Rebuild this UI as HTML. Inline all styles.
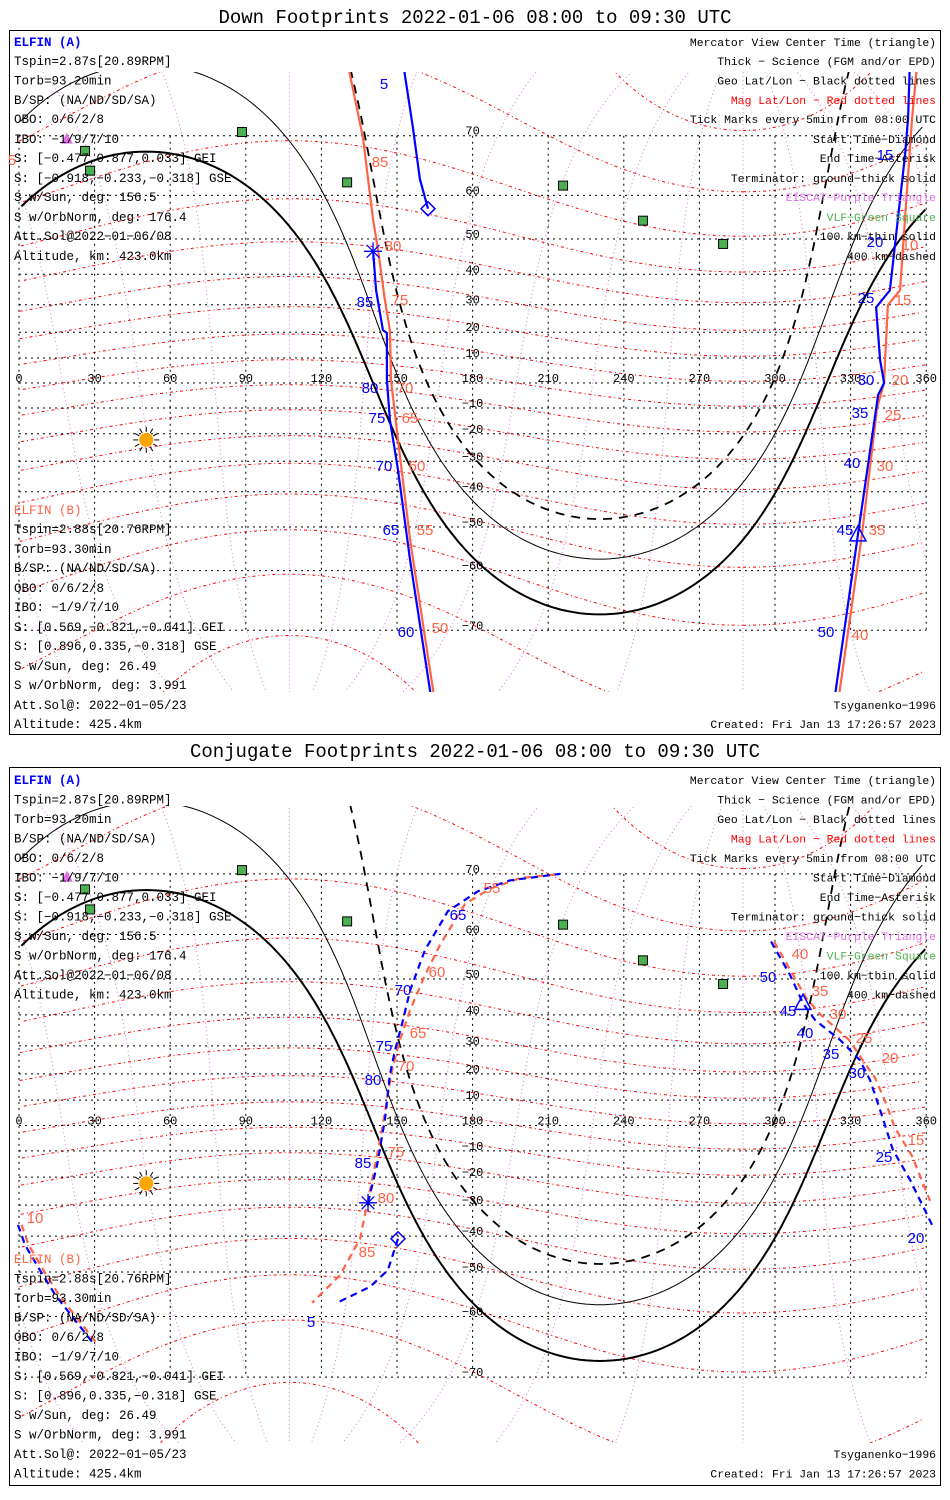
<!DOCTYPE html>
<html><head><meta charset="utf-8">
<style>
html,body{margin:0;padding:0;background:#fff;overflow:hidden;width:950px;height:1500px;}
svg{display:block;}
.t{font-family:"Liberation Mono",monospace;font-size:12.5px;fill:#000;}
.r{text-anchor:end;font-size:11.4px;}
.ttl{font-family:"Liberation Mono",monospace;font-size:19px;fill:#000;text-anchor:middle;}
.ax{font-family:"Liberation Mono",monospace;font-size:12px;fill:#000;text-anchor:middle;}
.lb{font-family:"Liberation Sans",sans-serif;font-size:15px;text-anchor:middle;}
.bl{fill:#0000ff;} .rd{fill:#ff6347;}
</style></head>
<body>
<svg id="chart" width="950" height="1500" viewBox="0 0 950 1500" xmlns="http://www.w3.org/2000/svg">
<defs>
<clipPath id="clip0"><rect x="10" y="72" width="931" height="620"/></clipPath>
<clipPath id="clip1"><rect x="10" y="806" width="931" height="637"/></clipPath>
</defs>
<rect x="0" y="0" width="950" height="1500" fill="#fff"/>
<text class="ttl" x="475" y="23">Down Footprints 2022-01-06 08:00 to 09:30 UTC</text>
<rect x="9.5" y="30.5" width="931" height="704" fill="none" stroke="#000"/>
<text class="ttl" x="475" y="757">Conjugate Footprints 2022-01-06 08:00 to 09:30 UTC</text>
<rect x="9.5" y="767.5" width="931" height="718" fill="none" stroke="#000"/>
<g id="maps"></g>
<g>
<text class="t" x="14" y="46" style="fill:#0000ff;font-weight:bold">ELFIN (A)</text>
<text class="t" x="14" y="65">Tspin=2.87s[20.89RPM]</text>
<text class="t" x="14" y="84.5">Torb=93.20min</text>
<text class="t" x="14" y="104">B/SP: (NA/ND/SD/SA)</text>
<text class="t" x="14" y="123">OBO: 0/6/2/8</text>
<text class="t" x="14" y="143">IBO: −1/9/7/10</text>
<text class="t" x="14" y="162">S: [−0.477,0.877,0.033] GEI</text>
<text class="t" x="14" y="182">S: [−0.918,−0.233,−0.318] GSE</text>
<text class="t" x="14" y="201">S w/Sun, deg: 156.5</text>
<text class="t" x="14" y="221">S w/OrbNorm, deg: 176.4</text>
<text class="t" x="14" y="240">Att.Sol@2022−01−06/08</text>
<text class="t" x="14" y="260">Altitude, km: 423.0km</text>
<text class="t" x="14" y="514" style="fill:#ff6347">ELFIN (B)</text>
<text class="t" x="14" y="533">Tspin=2.88s[20.76RPM]</text>
<text class="t" x="14" y="553">Torb=93.30min</text>
<text class="t" x="14" y="572">B/SP: (NA/ND/SD/SA)</text>
<text class="t" x="14" y="592">OBO: 0/6/2/8</text>
<text class="t" x="14" y="611">IBO: −1/9/7/10</text>
<text class="t" x="14" y="631">S: [0.569,−0.821,−0.041] GEI</text>
<text class="t" x="14" y="650">S: [0.896,0.335,−0.318] GSE</text>
<text class="t" x="14" y="670">S w/Sun, deg: 26.49</text>
<text class="t" x="14" y="689">S w/OrbNorm, deg: 3.991</text>
<text class="t" x="14" y="709">Att.Sol@: 2022−01−05/23</text>
<text class="t" x="14" y="728">Altitude: 425.4km</text>
<text class="t r" x="936" y="46">Mercator View Center Time (triangle)</text>
<text class="t r" x="936" y="65">Thick − Science (FGM and/or EPD)</text>
<text class="t r" x="936" y="84.5">Geo Lat/Lon − Black dotted lines</text>
<text class="t r" x="936" y="104" style="fill:#ff0000">Mag Lat/Lon − Red dotted lines</text>
<text class="t r" x="936" y="123">Tick Marks every 5min from 08:00 UTC</text>
<text class="t r" x="936" y="143">Start Time−Diamond</text>
<text class="t r" x="936" y="162">End Time−Asterisk</text>
<text class="t r" x="936" y="182">Terminator: ground−thick solid</text>
<text class="t r" x="936" y="201" style="fill:#e070e8">EISCAT−Purple Triangle</text>
<text class="t r" x="936" y="221" style="fill:#50b050">VLF−Green Square</text>
<text class="t r" x="936" y="240">100 km−thin solid</text>
<text class="t r" x="936" y="260">400 km−dashed</text>
<text class="t r" x="936" y="709">Tsyganenko−1996</text>
<text class="t r" x="936" y="728">Created: Fri Jan 13 17:26:57 2023</text>
<g>
<text class="lb bl" x="384" y="89">5</text><text class="lb bl" x="365" y="307">85</text><text class="lb bl" x="370" y="393">80</text><text class="lb bl" x="377" y="423">75</text><text class="lb bl" x="384" y="471">70</text><text class="lb bl" x="391" y="535">65</text><text class="lb bl" x="406" y="637">60</text>
<text class="lb bl" x="885" y="160">15</text><text class="lb bl" x="875" y="247">20</text><text class="lb bl" x="866" y="303">25</text><text class="lb bl" x="866" y="385">30</text><text class="lb bl" x="860" y="418">35</text><text class="lb bl" x="852" y="468">40</text><text class="lb bl" x="845" y="535">45</text><text class="lb bl" x="826" y="637">50</text>
<text class="lb rd" x="12" y="165">5</text><text class="lb rd" x="380" y="167">85</text><text class="lb rd" x="393" y="251">80</text><text class="lb rd" x="400" y="305">75</text><text class="lb rd" x="405" y="393">70</text><text class="lb rd" x="410" y="423">65</text><text class="lb rd" x="417" y="471">60</text><text class="lb rd" x="425" y="535">55</text><text class="lb rd" x="440" y="633">50</text>
<text class="lb rd" x="910" y="250">10</text><text class="lb rd" x="903" y="305">15</text><text class="lb rd" x="900" y="385">20</text><text class="lb rd" x="893" y="420">25</text><text class="lb rd" x="885" y="471">30</text><text class="lb rd" x="877" y="535">35</text><text class="lb rd" x="860" y="640">40</text>
</g>
</g>
<g>
<text class="t" x="14" y="784" style="fill:#0000ff;font-weight:bold">ELFIN (A)</text>
<text class="t" x="14" y="803.5">Tspin=2.87s[20.89RPM]</text>
<text class="t" x="14" y="823">Torb=93.20min</text>
<text class="t" x="14" y="842.5">B/SP: (NA/ND/SD/SA)</text>
<text class="t" x="14" y="862">OBO: 0/6/2/8</text>
<text class="t" x="14" y="881.5">IBO: −1/9/7/10</text>
<text class="t" x="14" y="901">S: [−0.477,0.877,0.033] GEI</text>
<text class="t" x="14" y="920.5">S: [−0.918,−0.233,−0.318] GSE</text>
<text class="t" x="14" y="940">S w/Sun, deg: 156.5</text>
<text class="t" x="14" y="959.5">S w/OrbNorm, deg: 176.4</text>
<text class="t" x="14" y="979">Att.Sol@2022−01−06/08</text>
<text class="t" x="14" y="998.5">Altitude, km: 423.0km</text>
<text class="t" x="14" y="1263" style="fill:#ff6347">ELFIN (B)</text>
<text class="t" x="14" y="1282.5">Tspin=2.88s[20.76RPM]</text>
<text class="t" x="14" y="1302">Torb=93.30min</text>
<text class="t" x="14" y="1321.5">B/SP: (NA/ND/SD/SA)</text>
<text class="t" x="14" y="1341">OBO: 0/6/2/8</text>
<text class="t" x="14" y="1360.5">IBO: −1/9/7/10</text>
<text class="t" x="14" y="1380">S: [0.569,−0.821,−0.041] GEI</text>
<text class="t" x="14" y="1399.5">S: [0.896,0.335,−0.318] GSE</text>
<text class="t" x="14" y="1419">S w/Sun, deg: 26.49</text>
<text class="t" x="14" y="1438.5">S w/OrbNorm, deg: 3.991</text>
<text class="t" x="14" y="1458">Att.Sol@: 2022−01−05/23</text>
<text class="t" x="14" y="1477.5">Altitude: 425.4km</text>
<text class="t r" x="936" y="784">Mercator View Center Time (triangle)</text>
<text class="t r" x="936" y="803.5">Thick − Science (FGM and/or EPD)</text>
<text class="t r" x="936" y="823">Geo Lat/Lon − Black dotted lines</text>
<text class="t r" x="936" y="842.5" style="fill:#ff0000">Mag Lat/Lon − Red dotted lines</text>
<text class="t r" x="936" y="862">Tick Marks every 5min from 08:00 UTC</text>
<text class="t r" x="936" y="881.5">Start Time−Diamond</text>
<text class="t r" x="936" y="901">End Time−Asterisk</text>
<text class="t r" x="936" y="920.5">Terminator: ground−thick solid</text>
<text class="t r" x="936" y="940" style="fill:#e070e8">EISCAT−Purple Triangle</text>
<text class="t r" x="936" y="959.5" style="fill:#50b050">VLF−Green Square</text>
<text class="t r" x="936" y="979">100 km−thin solid</text>
<text class="t r" x="936" y="998.5">400 km−dashed</text>
<text class="t r" x="936" y="1458">Tsyganenko−1996</text>
<text class="t r" x="936" y="1477.5">Created: Fri Jan 13 17:26:57 2023</text>
<g>
<text class="lb bl" x="311" y="1327">5</text><text class="lb bl" x="458" y="920">65</text><text class="lb bl" x="403" y="995">70</text><text class="lb bl" x="384" y="1051">75</text><text class="lb bl" x="373" y="1085">80</text><text class="lb bl" x="363" y="1168">85</text>
<text class="lb bl" x="768" y="982">50</text><text class="lb bl" x="788" y="1016">45</text><text class="lb bl" x="805" y="1038">40</text><text class="lb bl" x="831" y="1059">35</text><text class="lb bl" x="857" y="1078">30</text><text class="lb bl" x="884" y="1162">25</text><text class="lb bl" x="916" y="1243">20</text>
<text class="lb rd" x="492" y="893">55</text><text class="lb rd" x="437" y="977">60</text><text class="lb rd" x="418" y="1038">65</text><text class="lb rd" x="406" y="1071">70</text><text class="lb rd" x="396" y="1157">75</text><text class="lb rd" x="386" y="1203">80</text><text class="lb rd" x="367" y="1257">85</text><text class="lb rd" x="35" y="1223">10</text>
<text class="lb rd" x="800" y="959">40</text><text class="lb rd" x="820" y="996">35</text><text class="lb rd" x="838" y="1019">30</text><text class="lb rd" x="864" y="1043">25</text><text class="lb rd" x="890" y="1063">20</text><text class="lb rd" x="916" y="1145">15</text>
</g>
</g>
</svg>
<script>
// ---------- data ----------
const sunLon = 50.5, sunLat = -22.3;
const termAngles = [90, 100.1, 109.8];
const magPoleLat = 80.7, magPoleLon = 287.3;
const latTicks = [70,60,50,40,30,20,10,-10,-20,-30,-40,-50,-60,-70];
const lonTicks = [0,30,60,90,120,150,180,210,240,270,300,330,360];
// panel 1 (down)
const dA1Lon = [162.3,159.1,156.3,152.0];
const dA1Lat = [57.2,63.1,71.1,78.5];
const dA2Lon = [140.5,141.7,144.4,146.0,146.0,147.2,150.4,155.2,164.7];
const dA2Lat = [46.7,34.9,20.8,19.7,1.2,-14.7,-33.0,-57.8,-79];
const dA3Lon = [353.6,352.8,351.6,345.6,340.1,341.7,343.3,340.9,332.9,322.6];
const dA3Lat = [78.5,72.3,67.1,34.9,29.1,9.2,0,-4.8,-52.0,-79];
const dB1Lon = [129.8,136.5,140.5,142.5,145.2,147.2,147.6,150.4,155.2,165.9];
const dB1Lat = [78.5,69.7,54.7,47.0,31.6,20.8,1.2,-22.3,-53.2,-79];
const dB2Lon = [356.7,354.4,349.6,344.8,343.7,343.3,340.5,334.5,324.2];
const dB2Lat = [78.5,72.3,34.9,29.9,9.2,0,-10.0,-52.0,-79];
// panel 2 (conjugate)
const cA1Lon = [150.4,146.4,139.3,126.2];
const cA1Lat = [-40.8,-49.5,-53.6,-57.2];
const cA2Lon = [138.5,142.1,145.2,147.2,149.2,152.4,155.2,161.1,170.2,182.1,194.8,214.7];
const cA2Lat = [-29.2,-15.4,2.2,19.6,28.5,38.4,47.0,56.8,64.3,67.5,69.1,70.0];
const cA3Lon = [298.4,306.0,311.1,315.9,325.8,333.7,337.7,341.7,346.8,353.6,359.5,362.3];
const cA3Lat = [58.6,51.0,43.4,38.4,32.0,25.0,17.7,6.1,-9.6,-21.0,-31.7,-36.5];
const cA4Lon = [-0.4,2.4,8.3,14.3,22.2,30.2];
const cA4Lat = [-36.5,-42.6,-49.5,-55.4,-60.7,-65.3];
const cB1Lon = [212.7,198.8,186.9,177.0,167.1,161.1,155.2,151.2,148.0,146.0,144.0,141.3,138.5,135.3,127.4,116.3];
const cB1Lat = [69.9,69.4,67.9,65.5,57.9,51.0,41.4,32.0,21.4,10.0,-1.8,-15.4,-28.2,-40.8,-50.8,-57.2];
const cB2Lon = [299.6,307.2,312.3,317.9,329.4,335.3,339.7,343.7,347.6,354.4,361.5];
const cB2Lat = [58.6,51.0,45.0,40.2,32.0,24.3,18.5,9.6,-1.0,-12.0,-28.5];
const cB3Lon = [1.0,3.8,9.7,15.7,23.6,31.6];
const cB3Lat = [-36.5,-42.6,-49.5,-55.4,-60.7,-65.3];
// markers
const diamondLon = [162.3,150.4], diamondLat = [57.2,-40.8];
const asteriskLon = [140.5,138.5], asteriskLat = [46.7,-29.2];
const triangleLon = [332.9,311.1], triangleLat = [-52.0,43.4];
const vlfLon = [88.5,26.2,28.2,130.2,215.9,247.6,279.4];
const vlfLat = [70.5,67.8,64.6,62.5,61.9,54.5,48.7];
const eiscatLon = [21.0,19.0], eiscatLat = [78.0,69.6];

// ---------- helpers ----------
const NS = "http://www.w3.org/2000/svg";
const P = [{eq:383,s:142.5,clip:"clip0"},{eq:1125.5,s:145,clip:"clip1"}];
const D = Math.PI/180;
function X(lon){ return 19 + 2.52*lon; }
function Y(p,lat){ lat=Math.max(-85,Math.min(85,lat)); return p.eq - p.s*Math.log(Math.tan(Math.PI/4 + lat*D/2)); }
function mk(tag, parent){ const e=document.createElementNS(NS,tag); parent.appendChild(e); return e; }
function pathD(p,lons,lats,brk){
  let d="", px=null;
  for(let i=0;i<lons.length;i++){
    const x=X(lons[i]), y=Y(p,lats[i]);
    if(px===null || Math.abs(x-px)>brk) d+="M"+x.toFixed(1)+","+y.toFixed(1);
    else d+="L"+x.toFixed(1)+","+y.toFixed(1);
    px=x;
  }
  return d;
}
function norm(lon){ lon%=360; if(lon<0) lon+=360; return lon; }
function circle(lat0,lon0,th){
  const lo=[],la=[];
  for(let b=0;b<=360;b+=1){
    const f0=lat0*D, t=th*D, br=b*D;
    const f=Math.asin(Math.sin(f0)*Math.cos(t)+Math.cos(f0)*Math.sin(t)*Math.cos(br));
    const l=lon0*D+Math.atan2(Math.sin(br)*Math.sin(t)*Math.cos(f0), Math.cos(t)-Math.sin(f0)*Math.sin(f));
    lo.push(norm(l/D)); la.push(f/D);
  }
  const idx=lo.map((v,i)=>i).sort((a,b)=>lo[a]-lo[b]);
  return [idx.map(i=>lo[i]), idx.map(i=>la[i])];
}
function mag2geo(mlat,mlon){
  const x=Math.cos(mlat*D)*Math.cos(mlon*D), y=Math.cos(mlat*D)*Math.sin(mlon*D), z=Math.sin(mlat*D);
  const c=(90-magPoleLat)*D;
  const x1=x*Math.cos(c)+z*Math.sin(c), z1=-x*Math.sin(c)+z*Math.cos(c), y1=y;
  const L=magPoleLon*D;
  const x2=x1*Math.cos(L)-y1*Math.sin(L), y2=x1*Math.sin(L)+y1*Math.cos(L);
  return [norm(Math.atan2(y2,x2)/D), Math.asin(Math.max(-1,Math.min(1,z1)))/D];
}

const maps=document.getElementById("maps");
P.forEach((p,pi)=>{
  const g=mk("g",maps);
  g.setAttribute("clip-path","url(#"+p.clip+")");
  
  
  for(let ml=-80; ml<=80; ml+=10){
    const lo=[],la=[];
    for(let m=0;m<=360;m+=2){ const r=mag2geo(ml,m); lo.push(r[0]); la.push(r[1]); }
    const e=mk("path",g);
    e.setAttribute("d",pathD(p,lo,la,300)); e.setAttribute("fill","none");
    e.setAttribute("stroke","#ff0000"); e.setAttribute("stroke-width","1"); e.setAttribute("stroke-dasharray","3,3,1,3");
    
    
  }
  for(let mo=0; mo<360; mo+=30){
    const lo=[],la=[];
    for(let m=-88;m<=88;m+=1){ const r=mag2geo(m,mo); lo.push(r[0]); la.push(r[1]); }
    const e=mk("path",g);
    e.setAttribute("d",pathD(p,lo,la,200)); e.setAttribute("fill","none");
    e.setAttribute("stroke","#e070e8"); e.setAttribute("stroke-width","1"); e.setAttribute("stroke-dasharray","1,3");
    
    
  }
  latTicks.concat([0]).forEach(lt=>{
    const e=mk("line",g);
    e.setAttribute("x1",X(0)); e.setAttribute("x2",X(360)); e.setAttribute("y1",Y(p,lt)); e.setAttribute("y2",Y(p,lt));
    e.setAttribute("stroke","#000"); e.setAttribute("stroke-dasharray","2,4");
    
    
  });
  lonTicks.forEach(ln=>{
    const e=mk("line",g);
    e.setAttribute("x1",X(ln)); e.setAttribute("x2",X(ln)); e.setAttribute("y1",Y(p,70)); e.setAttribute("y2",Y(p,-70));
    e.setAttribute("stroke","#000"); e.setAttribute("stroke-dasharray","2,4");
    
    
  });
  latTicks.forEach(lt=>{
    const e=mk("text",g); e.setAttribute("class","ax");
    e.setAttribute("x",X(180)); e.setAttribute("y",Y(p,lt)-1); e.textContent=String(lt).replace("-","\u2212");
    
    
  });
  lonTicks.forEach(ln=>{
    const e=mk("text",g); e.setAttribute("class","ax");
    e.setAttribute("x",X(ln)); e.setAttribute("y",Y(p,0)-1); e.textContent=String(ln);
    
    
  });
  termAngles.forEach((th,ti)=>{
    const c=circle(-sunLat,norm(sunLon+180),180-th);
    const e=mk("path",g);
    e.setAttribute("d",pathD(p,c[0],c[1],300)); e.setAttribute("fill","none"); e.setAttribute("stroke","#000");
    e.setAttribute("stroke-width", ti===0?"2":(ti===1?"1":"1.8"));
    if(ti===2) e.setAttribute("stroke-dasharray","9,7");
    
    
  });
  const sx=X(sunLon), sy=Y(p,sunLat);
  for(let a=0;a<360;a+=30){
    const e=mk("line",g);
    e.setAttribute("x1",sx+8*Math.cos(a*D)); e.setAttribute("y1",sy+8*Math.sin(a*D));
    e.setAttribute("x2",sx+13*Math.cos(a*D)); e.setAttribute("y2",sy+13*Math.sin(a*D));
    e.setAttribute("stroke","#000");
    
    
  }
  const sun=mk("circle",g); sun.setAttribute("cx",sx); sun.setAttribute("cy",sy); sun.setAttribute("r","7"); sun.setAttribute("fill","#ffa500");
  
  
  vlfLon.forEach((lo,i)=>{
    const e=mk("rect",g);
    e.setAttribute("x",X(lo)-4.5); e.setAttribute("y",Y(p,vlfLat[i])-4.5); e.setAttribute("width","9"); e.setAttribute("height","9");
    e.setAttribute("fill","#4caf50"); e.setAttribute("stroke","#000");
    
    
  });
  eiscatLon.forEach((lo,i)=>{
    const x=X(lo), y=Y(p,eiscatLat[i]);
    const e=mk("polygon",g);
    e.setAttribute("points",(x-6)+","+(y+5)+" "+(x+6)+","+(y+5)+" "+x+","+(y-6));
    e.setAttribute("fill","#e070e8");
    
    
  });
  const isC = pi===1;
  const A = isC ? [[cA1Lon,cA1Lat],[cA2Lon,cA2Lat],[cA3Lon,cA3Lat],[cA4Lon,cA4Lat]] : [[dA1Lon,dA1Lat],[dA2Lon,dA2Lat],[dA3Lon,dA3Lat]];
  const B = isC ? [[cB1Lon,cB1Lat],[cB2Lon,cB2Lat],[cB3Lon,cB3Lat]] : [[dB1Lon,dB1Lat],[dB2Lon,dB2Lat]];
  B.forEach(s=>{
    const e=mk("path",g);
    e.setAttribute("d",pathD(p,s[0],s[1],500)); e.setAttribute("fill","none"); e.setAttribute("stroke","#ff6347"); e.setAttribute("stroke-width","2.2");
    if(isC) e.setAttribute("stroke-dasharray","7,5");
    
    
  });
  A.forEach(s=>{
    const e=mk("path",g);
    e.setAttribute("d",pathD(p,s[0],s[1],500)); e.setAttribute("fill","none"); e.setAttribute("stroke","#0000ff"); e.setAttribute("stroke-width","2.2");
    if(isC) e.setAttribute("stroke-dasharray","7,5");
    
    
  });
  const dx=X(diamondLon[pi]), dy=Y(p,diamondLat[pi]);
  const dm=mk("polygon",g);
  dm.setAttribute("points",dx+","+(dy-7)+" "+(dx+7)+","+dy+" "+dx+","+(dy+7)+" "+(dx-7)+","+dy);
  dm.setAttribute("fill","none"); dm.setAttribute("stroke","#0000ff"); dm.setAttribute("stroke-width","1.5");
  
  
  const ax=X(asteriskLon[pi]), ay=Y(p,asteriskLat[pi]);
  for(let a=0;a<180;a+=45){
    const e=mk("line",g);
    e.setAttribute("x1",ax-9*Math.cos(a*D)); e.setAttribute("y1",ay-9*Math.sin(a*D));
    e.setAttribute("x2",ax+9*Math.cos(a*D)); e.setAttribute("y2",ay+9*Math.sin(a*D));
    e.setAttribute("stroke","#0000ff"); e.setAttribute("stroke-width","1.3");
    
    
  }
  const tx=X(triangleLon[pi]), ty=Y(p,triangleLat[pi]);
  const tr=mk("polygon",g);
  tr.setAttribute("points",(tx-8)+","+(ty+6)+" "+(tx+8)+","+(ty+6)+" "+tx+","+(ty-9));
  tr.setAttribute("fill","none"); tr.setAttribute("stroke","#0000ff"); tr.setAttribute("stroke-width","1.5");
  
  
});
</script>
</body></html>
